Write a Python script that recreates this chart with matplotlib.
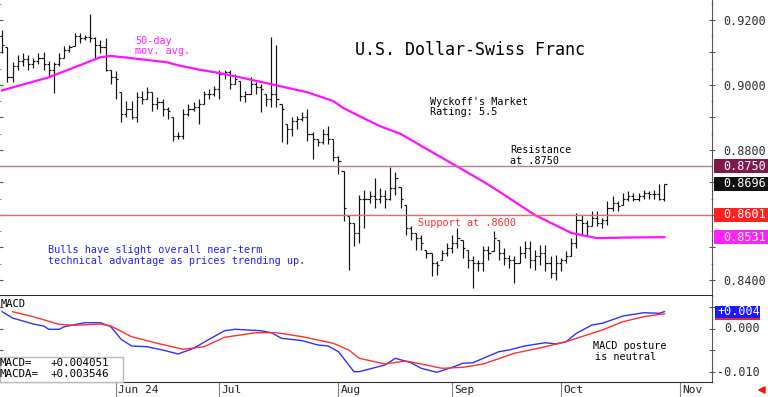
import numpy as np
import pandas as pd
import matplotlib
matplotlib.use("Agg")
import matplotlib.pyplot as plt
from matplotlib.patches import Rectangle, FancyArrowPatch
from matplotlib.transforms import blended_transform_factory

# USD/CHF daily bars, 2 May - 29 Oct 2024
highs = [0.9169, 0.9115, 0.9069, 0.9093, 0.9099, 0.9093, 0.9084, 0.9099, 0.9102, 0.9072,
         0.9069, 0.9099, 0.9118, 0.9124, 0.9160, 0.9160, 0.9154, 0.9218, 0.9148, 0.9139,
         0.9145, 0.9047, 0.9041, 0.8977, 0.8950, 0.8950, 0.8977, 0.8980, 0.8992, 0.8977,
         0.8962, 0.8956, 0.8931, 0.8901, 0.8855, 0.8925, 0.8941, 0.8947, 0.8956, 0.8980,
         0.8986, 0.8995, 0.9047, 0.9047, 0.9047, 0.9032, 0.9011, 0.8980, 0.9023, 0.9008,
         0.9002, 0.8971, 0.9148, 0.9124, 0.8941, 0.8879, 0.8901, 0.8904, 0.8916, 0.8925,
         0.8855, 0.8834, 0.8864, 0.8873, 0.8834, 0.8782, 0.8736, 0.8596, 0.8574, 0.8660,
         0.8675, 0.8672, 0.8712, 0.8681, 0.8675, 0.8748, 0.8733, 0.8687, 0.8629, 0.8565,
         0.8544, 0.8537, 0.8492, 0.8483, 0.8458, 0.8492, 0.8513, 0.8537, 0.8559, 0.8522,
         0.8492, 0.8473, 0.8461, 0.8504, 0.8504, 0.8550, 0.8522, 0.8498, 0.8476, 0.8473,
         0.8504, 0.8519, 0.8519, 0.8492, 0.8507, 0.8507, 0.8473, 0.8476, 0.8467, 0.8489,
         0.8528, 0.8605, 0.8599, 0.8583, 0.8611, 0.8611, 0.8589, 0.8641, 0.8657, 0.8641,
         0.8666, 0.8672, 0.8666, 0.8666, 0.8675, 0.8672, 0.8675, 0.8696, 0.8696]
lows = [0.9099, 0.9008, 0.9008, 0.9047, 0.9057, 0.9047, 0.9053, 0.9063, 0.9047, 0.9026,
        0.8974, 0.9057, 0.9084, 0.9102, 0.9118, 0.9130, 0.9139, 0.9133, 0.9084, 0.9099,
        0.9041, 0.9002, 0.8956, 0.8886, 0.8901, 0.8895, 0.8886, 0.8941, 0.8956, 0.8919,
        0.8925, 0.8904, 0.8895, 0.8828, 0.8834, 0.8834, 0.8904, 0.8919, 0.8879, 0.8941,
        0.8956, 0.8965, 0.8956, 0.9017, 0.8986, 0.9002, 0.8950, 0.8947, 0.8971, 0.8971,
        0.8916, 0.8934, 0.8931, 0.8931, 0.8824, 0.8818, 0.8843, 0.8864, 0.8889, 0.8828,
        0.8773, 0.8812, 0.8818, 0.8818, 0.8766, 0.8727, 0.8580, 0.8431, 0.8504, 0.8513,
        0.8559, 0.8635, 0.8620, 0.8635, 0.8620, 0.8644, 0.8660, 0.8620, 0.8537, 0.8522,
        0.8492, 0.8492, 0.8467, 0.8412, 0.8415, 0.8461, 0.8473, 0.8483, 0.8498, 0.8467,
        0.8437, 0.8376, 0.8428, 0.8428, 0.8461, 0.8489, 0.8461, 0.8446, 0.8437, 0.8391,
        0.8452, 0.8467, 0.8437, 0.8431, 0.8446, 0.8428, 0.8406, 0.8400, 0.8428, 0.8452,
        0.8473, 0.8498, 0.8534, 0.8534, 0.8565, 0.8565, 0.8559, 0.8568, 0.8611, 0.8611,
        0.8629, 0.8641, 0.8641, 0.8641, 0.8650, 0.8650, 0.8650, 0.8644, 0.8641]
closes = [0.9124, 0.9023, 0.9057, 0.9072, 0.9078, 0.9063, 0.9072, 0.9084, 0.9063, 0.9047,
          0.9063, 0.9084, 0.9108, 0.9115, 0.9151, 0.9145, 0.9148, 0.9145, 0.9124, 0.9115,
          0.9047, 0.9023, 0.9017, 0.8910, 0.8925, 0.8901, 0.8962, 0.8956, 0.8977, 0.8941,
          0.8947, 0.8925, 0.8919, 0.8843, 0.8843, 0.8910, 0.8925, 0.8931, 0.8941, 0.8971,
          0.8971, 0.8986, 0.9032, 0.9038, 0.9002, 0.9017, 0.8965, 0.8971, 0.9002, 0.8992,
          0.8986, 0.8956, 0.8971, 0.8956, 0.8925, 0.8864, 0.8889, 0.8895, 0.8901, 0.8849,
          0.8834, 0.8824, 0.8849, 0.8834, 0.8779, 0.8766, 0.8620, 0.8574, 0.8544, 0.8650,
          0.8650, 0.8657, 0.8650, 0.8657, 0.8650, 0.8681, 0.8712, 0.8650, 0.8559, 0.8544,
          0.8528, 0.8513, 0.8483, 0.8452, 0.8446, 0.8483, 0.8498, 0.8513, 0.8528, 0.8498,
          0.8461, 0.8452, 0.8452, 0.8492, 0.8483, 0.8528, 0.8483, 0.8467, 0.8461, 0.8452,
          0.8483, 0.8498, 0.8461, 0.8473, 0.8483, 0.8452, 0.8421, 0.8452, 0.8461, 0.8473,
          0.8513, 0.8583, 0.8574, 0.8565, 0.8589, 0.8574, 0.8583, 0.8620, 0.8635, 0.8626,
          0.8650, 0.8657, 0.8650, 0.8657, 0.8666, 0.8663, 0.8663, 0.8650, 0.8696]
first_open = 0.9150

# 50-day moving average (trading-day index, value)
ma_idx = [1, 10, 20, 22, 26, 33, 35, 39, 43, 47, 53, 60, 65, 67, 70, 74, 78, 83, 89, 94, 97,
          104, 111, 116, 122, 129]
ma_val = [0.8983, 0.9023, 0.9085, 0.9089, 0.9082, 0.9069, 0.9060, 0.9047, 0.9036, 0.9023, 0.9002,
          0.8977, 0.8950, 0.8928, 0.8904, 0.8873, 0.8849, 0.8803, 0.8748, 0.8702, 0.8672,
          0.8599, 0.8544, 0.8528, 0.8530, 0.8531]

# MACD (blue) and signal (red)
macd_idx = [1, 3, 7, 9, 10, 12, 13, 17, 20, 22, 24, 26, 29, 32, 35, 38, 41, 44, 46, 51, 53, 55, 59,
            62, 64, 66, 69, 70, 75, 77, 80, 82, 85, 88, 90, 92, 94, 97, 99, 102, 106, 108, 110, 112,
            115, 117, 121, 125, 128, 129]
macd_val = [0.00402, 0.00256, 0.00116, 0.00070, -0.00007, -0.00007, 0.00053, 0.00147, 0.00147,
            0.00053, -0.00240, -0.00395, -0.00412, -0.00488, -0.00581, -0.00449, -0.00240, -0.00040,
            -0.00007, -0.00040, -0.00086, -0.00216, -0.00272, -0.00372, -0.00395, -0.00528, -0.00993,
            -0.00993, -0.00837, -0.00681, -0.00784, -0.00914, -0.01007, -0.00891, -0.00798, -0.00784,
            -0.00681, -0.00528, -0.00488, -0.00395, -0.00319, -0.00349, -0.00295, -0.00100, 0.00093,
            0.00133, 0.00302, 0.00379, 0.00365, 0.00405]
sig_idx = [3, 7, 12, 15, 20, 22, 26, 31, 36, 40, 44, 50, 54, 59, 65, 68, 70, 75, 79, 82, 86, 90,
           94, 100, 106, 110, 117, 121, 125, 129]
sig_val = [0.00402, 0.00286, 0.00109, 0.00086, 0.00116, 0.00070, -0.00179, -0.00333, -0.00472,
           -0.00412, -0.00193, -0.00086, -0.00086, -0.00179, -0.00333, -0.00488, -0.00681, -0.00814,
           -0.00744, -0.00814, -0.00914, -0.00891, -0.00814, -0.00565, -0.00412, -0.00295, -0.00023,
           0.00170, 0.00286, 0.00355]

resistance = 0.8750
support = 0.8600
price_ticks = [0.84, 0.86, 0.88, 0.90, 0.92]
month_labels = ["Jun 24", "Jul", "Aug", "Sep", "Oct", "Nov"]

W, H = 768, 397
plt.rcParams['font.family'] = 'DejaVu Sans Mono'

fig = plt.figure(figsize=(W / 100, H / 100), dpi=100)
ax = fig.add_axes([0, 1 - 296 / H, 712 / W, 296 / H])
ax2 = fig.add_axes([0, 1 - 382 / H, 712 / W, 86 / H])


def ftext(px, py, s, **kw):
    fig.text(px / W, 1 - py / H, s, va='center', ha='left', **kw)


def value_box(axis, val, txt, fc, x0=714, x1=768, tx=723, hpx=14):
    ymin, ymax = axis.get_ylim()
    upp = (ymax - ymin) / (axis.get_position().height * H)
    tr = blended_transform_factory(fig.transFigure, axis.transData)
    axis.add_patch(Rectangle((x0 / W, val - hpx / 2 * upp), (x1 - x0) / W, hpx * upp,
                             transform=tr, fc=fc, ec='none', clip_on=False, zorder=5))
    if txt:
        axis.text(tx / W, val, txt, transform=tr, color='white', va='center', ha='left',
                  fontsize=8.5, clip_on=False, zorder=6)


# --- pannello prezzi ---
x = np.arange(1, len(closes) + 1)
opens = np.clip([first_open] + closes[:-1], lows, highs)
ax.vlines(x, lows, highs, color='#111111', lw=0.85)
ax.hlines(opens, x - 0.42, x, color='#111111', lw=0.85)
ax.hlines(closes, x, x + 0.42, color='#111111', lw=0.85)
ax.plot(ma_idx, ma_val, color='#ff10ff', lw=1.6)
ax.axhline(resistance, color='#b47a9a', lw=1.0)
ax.axhline(support, color='#ff6060', lw=1.0)

ax.set_xlim(0.58, 138.2)
ax.set_ylim(0.835725, 0.926107)
ax.set_xticks([])
ax.yaxis.tick_right()
ax.set_yticks(np.round(np.arange(0.84, 0.9201, 0.01), 2))
ax.set_yticklabels(['%.4f' % t if round(t, 2) in price_ticks else '' for t in np.arange(0.84, 0.9201, 0.01)])
ax.set_yticks(np.arange(0.835, 0.926, 0.005), minor=True)
ax.tick_params(axis='y', which='major', length=4, direction='inout', color='#555555',
               labelsize=8.5, labelcolor='#303030', pad=6, left=True, right=True)
ax.tick_params(axis='y', which='minor', length=2, direction='inout', color='#777777', left=True, right=True)
for s in ['top', 'left']:
    ax.spines[s].set_visible(False)
ax.spines['right'].set_color('#555555')
ax.spines['bottom'].set_color('black')
ax.spines['bottom'].set_linewidth(1.2)

value_box(ax, resistance, '0.8750', '#7b1a4b')
value_box(ax, closes[-1], '0.8696', '#111111')
value_box(ax, support, '0.8601', '#ff2020')
value_box(ax, ma_val[-1], '0.8531', '#ff22ff')

ftext(355, 50, "U.S. Dollar-Swiss Franc", fontsize=12, color='black')
ftext(135, 41, "50-day", fontsize=7.3, color='#ff22ff')
ftext(135, 51, "mov. avg.", fontsize=7.3, color='#ff22ff')
ftext(430, 102, "Wyckoff's Market", fontsize=7.3)
ftext(430, 112, "Rating: 5.5", fontsize=7.3)
ftext(510, 150, "Resistance", fontsize=7.3)
ftext(510, 161, "at .8750", fontsize=7.3)
ftext(418, 223, "Support at .8600", fontsize=7.3, color='#ff3030')
ftext(48, 250, "Bulls have slight overall near-term", fontsize=7.3, color='#2020ff')
ftext(48, 261, "technical advantage as prices trending up.", fontsize=7.3, color='#2020ff')

# --- pannello MACD ---
ax2.plot(macd_idx, macd_val, color='#3030ff', lw=1.0)
ax2.plot(sig_idx, sig_val, color='#ff3030', lw=1.0)
ax2.set_xlim(0.58, 138.2)
ax2.set_ylim(-0.012326, 0.007674)
ax2.yaxis.tick_right()
ax2.set_yticks([-0.010, -0.005, 0.0, 0.005])
ax2.set_yticklabels([])
ax2.tick_params(axis='y', length=4, direction='inout', color='#555555', left=True, right=True)

cal = pd.bdate_range("2024-05-01", "2024-11-29")
month_pos = [int(np.where(cal.month == m)[0][0]) for m in [6, 7, 8, 9, 10, 11]]
ax2.set_xticks(month_pos)
ax2.set_xticklabels([])
ax2.tick_params(axis='x', length=11, direction='out', color='#808080')
trx = blended_transform_factory(ax2.transData, ax2.transAxes)
for p, lab in zip(month_pos, month_labels):
    ax2.text(p + 0.4, -0.095, lab, transform=trx, va='center', ha='left', fontsize=8, color='#202020')

for s in ['top', 'left']:
    ax2.spines[s].set_visible(False)
ax2.spines['right'].set_color('#555555')
ax2.spines['bottom'].set_color('#303030')

value_box(ax2, sig_val[-1], '', '#ff2020', x0=715, x1=760, hpx=12)
value_box(ax2, macd_val[-1], '+0.004', '#1a1aff', x0=715, x1=760, tx=717, hpx=12)
ftext(760, 329, "0.000", fontsize=8.5, color='#303030')
fig.texts[-1].set_ha('right')
ftext(760, 372, "-0.010", fontsize=8.5, color='#303030')
fig.texts[-1].set_ha('right')

ftext(1, 304, "MACD", fontsize=7.5)
ax2.add_patch(Rectangle((0, 1 - 382 / H), 123 / W, 25 / H, transform=fig.transFigure,
                        fc='white', ec='#bbbbbb', lw=1.0, clip_on=False, zorder=4))
ftext(0, 363, "MACD=", fontsize=7.8)
ftext(50, 363, "+0.004051", fontsize=7.8)
ftext(0, 374, "MACDA=", fontsize=7.8)
ftext(50, 374, "+0.003546", fontsize=7.8)
ftext(593, 346, "MACD posture", fontsize=7.3)
ftext(595, 357, "is neutral", fontsize=7.3)

fig.add_artist(FancyArrowPatch((767 / W, 1 - 390 / H), (756 / W, 1 - 390 / H),
                               transform=fig.transFigure, arrowstyle='simple',
                               mutation_scale=9, color='#ff1010'))

fig.savefig("out.png", dpi=100)
